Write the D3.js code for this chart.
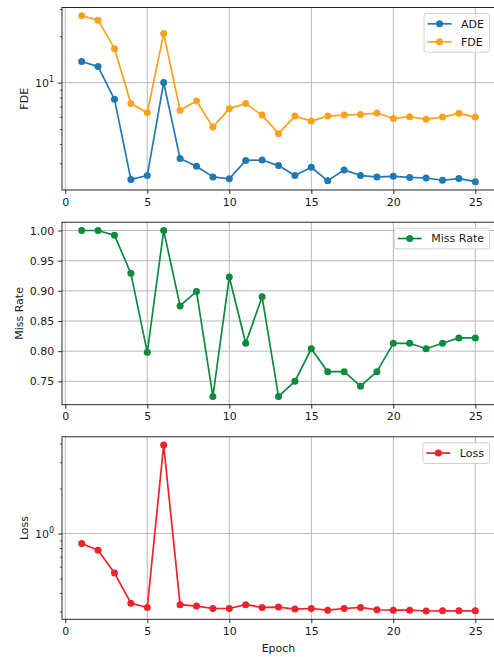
<!DOCTYPE html>
<meta charset="utf-8">

<!-- Load d3.js -->
<script src="https://d3js.org/d3.v7.min.js"></script>

<style>
  body { margin: 0; background: #fff; }
  svg text { font-family: "DejaVu Sans", sans-serif; fill: #1a1a1a; }
</style>

<!-- Create a div where the graph will take place -->
<div id="my_dataviz"></div>

<script>

// the data
var epochs = [1, 2, 3, 4, 5, 6, 7, 8, 9, 10, 11, 12, 13, 14, 15, 16, 17, 18, 19, 20, 21, 22, 23, 24, 25];

var ade = [13.7, 12.7, 7.79, 2.36, 2.50, 10.0, 3.22, 2.87, 2.45, 2.38, 3.13, 3.15, 2.90,
           2.50, 2.83, 2.31, 2.72, 2.50, 2.45, 2.47, 2.43, 2.41, 2.33, 2.39, 2.28];
var fde = [27.1, 25.4, 16.6, 7.31, 6.38, 20.8, 6.61, 7.60, 5.15, 6.78, 7.31, 6.16, 4.67,
           6.07, 5.63, 6.07, 6.16, 6.22, 6.35, 5.86, 6.01, 5.80, 5.98, 6.32, 5.98];
var missRate = [1.000, 1.000, 0.992, 0.929, 0.798, 1.000, 0.875, 0.899, 0.725, 0.923, 0.813, 0.890, 0.725,
                0.750, 0.804, 0.766, 0.766, 0.742, 0.766, 0.813, 0.813, 0.804, 0.813, 0.822, 0.822];
var loss = [0.857, 0.773, 0.544, 0.342, 0.320, 3.91, 0.334, 0.327, 0.315, 0.315, 0.334, 0.320, 0.322,
            0.312, 0.315, 0.307, 0.315, 0.320, 0.309, 0.307, 0.307, 0.303, 0.304, 0.304, 0.304];

var xTicks = [0, 5, 10, 15, 20, 25];
var missTicks = [0.75, 0.80, 0.85, 0.90, 0.95, 1.00];

// layout
var width = 494, height = 657;
var left = 62, right = 495, panelH = 182.5;
var tops = [7.5, 222.2, 436.8];
var tickLen = 3.9, tickPad = 3.9;

var svg = d3.select("#my_dataviz")
  .append("svg")
    .attr("width", width)
    .attr("height", height)
    .style("font-size", "11px");

// matplotlib style 5% margins
var pad = function(ext) {
  var r = ext[1] - ext[0];
  return [ext[0] - 0.05 * r, ext[1] + 0.05 * r];
};
var padLog = function(ext) {
  var a = Math.log10(ext[0]), b = Math.log10(ext[1]), r = b - a;
  return [Math.pow(10, a - 0.05 * r), Math.pow(10, b + 0.05 * r)];
};

var x = d3.scaleLinear()
  .domain(pad(d3.extent(epochs)))
  .range([left, right]);

var panels = [
  { label: "FDE", log: true,
    series: [{ name: "ADE", values: ade, color: "#1f77b4" },
             { name: "FDE", values: fde, color: "#fda11d" }] },
  { label: "Miss Rate", log: false,
    series: [{ name: "Miss Rate", values: missRate, color: "#0c8a3e" }] },
  { label: "Loss", log: true,
    series: [{ name: "Loss", values: loss, color: "#ee2229" }] }
];

panels.forEach(function(p, i) {
  var top = tops[i], bottom = top + panelH;
  var all = [];
  p.series.forEach(function(s) { all = all.concat(s.values); });

  var y = p.log ? d3.scaleLog() : d3.scaleLinear();
  y.domain(p.log ? padLog(d3.extent(all)) : pad(d3.extent(all)))
   .range([bottom, top]);

  var yMajor, yMinor = [];
  if (p.log) {
    var allTicks = y.ticks();
    yMajor = allTicks.filter(function(d) { return Math.abs(Math.log10(d) - Math.round(Math.log10(d))) < 1e-9; });
    yMinor = allTicks.filter(function(d) { return yMajor.indexOf(d) < 0; });
  } else {
    yMajor = missTicks;
  }

  var g = svg.append("g");

  // grid
  g.selectAll(".vgrid").data(xTicks).enter().append("line")
    .attr("x1", function(d) { return x(d); })
    .attr("x2", function(d) { return x(d); })
    .attr("y1", top).attr("y2", bottom)
    .attr("stroke", "#b0b0b0").attr("stroke-width", 0.9);
  g.selectAll(".hgrid").data(yMajor).enter().append("line")
    .attr("x1", left).attr("x2", right)
    .attr("y1", function(d) { return y(d); })
    .attr("y2", function(d) { return y(d); })
    .attr("stroke", "#b0b0b0").attr("stroke-width", 0.9);

  // lines and points
  p.series.forEach(function(s) {
    g.append("path")
      .datum(s.values)
      .attr("fill", "none")
      .attr("stroke", s.color)
      .attr("stroke-width", 1.7)
      .attr("stroke-linejoin", "round")
      .attr("d", d3.line()
        .x(function(d, j) { return x(epochs[j]); })
        .y(function(d) { return y(d); })
      );
    g.append("g")
      .selectAll("circle")
      .data(s.values)
      .enter()
      .append("circle")
        .attr("cx", function(d, j) { return x(epochs[j]); })
        .attr("cy", function(d) { return y(d); })
        .attr("r", 3.5)
        .attr("fill", s.color);
  });

  // spines
  g.append("rect")
    .attr("x", left).attr("y", top)
    .attr("width", right - left).attr("height", panelH)
    .attr("fill", "none").attr("stroke", "#111").attr("stroke-width", 0.9);

  // x axis
  var xa = g.append("g")
    .attr("transform", "translate(0," + bottom + ")")
    .call(d3.axisBottom(x).tickValues(xTicks).tickSize(tickLen).tickPadding(tickPad).tickSizeOuter(0));
  xa.select(".domain").remove();
  xa.selectAll("text").style("font-size", "11px").attr("fill", "#1a1a1a");
  xa.selectAll("line").attr("stroke", "#111").attr("stroke-width", 0.9);

  // y axis
  var ya = g.append("g")
    .attr("transform", "translate(" + left + ",0)")
    .call(d3.axisLeft(y).tickValues(yMajor).tickSize(tickLen).tickPadding(tickPad).tickSizeOuter(0)
      .tickFormat(p.log ? function() { return ""; } : d3.format(".2f")));
  ya.select(".domain").remove();
  ya.selectAll("text").style("font-size", "11px").attr("fill", "#1a1a1a");
  ya.selectAll("line").attr("stroke", "#111").attr("stroke-width", 0.9);
  if (p.log) {
    ya.selectAll("text").each(function(d) {
      var t = d3.select(this);
      t.append("tspan").text("10");
      t.append("tspan").attr("dy", "-4.5").style("font-size", "8px").text(Math.round(Math.log10(d)));
    });
    var ym = g.append("g")
      .attr("transform", "translate(" + left + ",0)")
      .call(d3.axisLeft(y).tickValues(yMinor).tickSize(2.2).tickFormat(function() { return ""; }).tickSizeOuter(0));
    ym.select(".domain").remove();
    ym.selectAll("line").attr("stroke", "#111").attr("stroke-width", 0.7);
  }

  // y label, placed left of the tick labels
  var minX = left;
  ya.selectAll("text").each(function() {
    var b = this.getBBox();
    minX = Math.min(minX, left + b.x);
  });
  g.append("text")
    .attr("transform", "translate(" + (minX - 4.4 - 2.6) + "," + ((top + bottom) / 2) + ") rotate(-90)")
    .attr("text-anchor", "middle")
    .style("font-size", "11px")
    .text(p.label);

  // legend
  var lg = g.append("g");
  var box = lg.append("rect");
  var texts = [];
  p.series.forEach(function(s, k) {
    texts.push(lg.append("text")
      .attr("y", k * 18)
      .attr("dy", "0.35em")
      .style("font-size", "11px")
      .text(s.name));
  });
  var tw = d3.max(texts, function(t) { return t.node().getComputedTextLength(); });
  var bw = 37 + tw + 5.5;
  var bl = 489.5 - bw, bt = top + 6;
  box.attr("x", bl).attr("y", bt)
    .attr("width", bw).attr("height", 20.7 + 18 * (p.series.length - 1))
    .attr("rx", 2.5)
    .attr("fill", "white").attr("fill-opacity", 0.8)
    .attr("stroke", "#cccccc").attr("stroke-width", 0.9);
  p.series.forEach(function(s, k) {
    var cy = bt + 10.3 + k * 18;
    texts[k].attr("x", bl + 37).attr("y", cy);
    lg.append("line")
      .attr("x1", bl + 3.5).attr("x2", bl + 27.5)
      .attr("y1", cy).attr("y2", cy)
      .attr("stroke", s.color).attr("stroke-width", 1.7);
    lg.append("circle")
      .attr("cx", bl + 15.5).attr("cy", cy).attr("r", 3.5)
      .attr("fill", s.color);
  });
});

// shared x label
svg.append("text")
  .attr("x", (left + right) / 2)
  .attr("y", 651.5)
  .attr("text-anchor", "middle")
  .style("font-size", "11px")
  .text("Epoch");

</script>
